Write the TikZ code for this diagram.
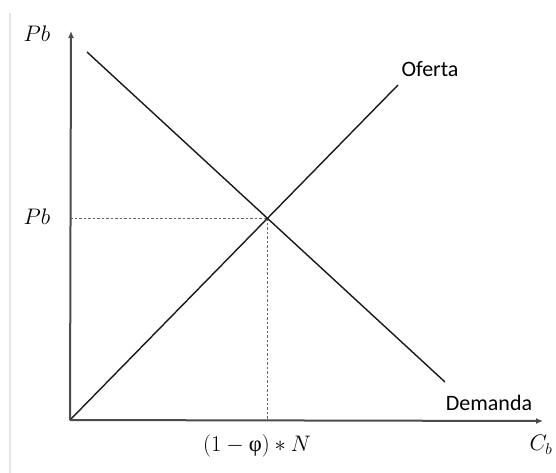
\documentclass[tikz,border=0pt]{standalone}
\usepackage{graphicx}
\usepackage{fontspec}
\setsansfont{Carlito}
\newfontfamily\libser{Liberation Serif}
\usetikzlibrary{arrows.meta}
\definecolor{edgeshade}{RGB}{228,228,236}
\newcommand{\bigmath}[1]{\scalebox{1.3}{\LARGE #1}}
\begin{document}
\begin{tikzpicture}[x=1pt,y=-1pt,
  axis/.style={draw=black!70,line width=2pt,-{Latex[length=7pt,width=6pt]}},
  curve/.style={draw=black!90,line width=1.4pt},
  guide/.style={draw=black!60,line width=0.8pt,dash pattern=on 2.5pt off 2pt},
  mathlbl/.style={inner sep=0pt},
  txtlbl/.style={font=\sffamily\fontsize{22}{26}\selectfont,inner sep=0pt}]
\useasboundingbox (0,0) rectangle (556,473);
\fill[white] (0,0) rectangle (556,473);
\draw[draw=edgeshade,line width=2pt] (10,13) -- (10,473);
% coordinates
\coordinate (O) at (70,420);
\coordinate (ytop) at (71,31);
\coordinate (xend) at (543,421);
\coordinate (d1) at (87,52);
\coordinate (d2) at (445,382);
\coordinate (s2) at (398,85);
\coordinate (E) at (intersection of d1--d2 and O--s2);
\coordinate (Ey) at (O |- E);
\coordinate (Ex) at (E |- O);
% guides
\draw[guide] (Ey) -- (E);
\draw[guide] (E) -- (Ex);
% curves
\draw[curve] (d1) -- (d2);
\draw[curve] (O) -- (s2);
% axes
\draw[axis] (O) -- (ytop);
\draw[axis] (O) -- (xend);
% labels
\node[mathlbl] (lpb1) at (37,34) {\bigmath{$Pb$}};
\node[mathlbl] (lpb2) at (37,217) {\bigmath{$Pb$}};
\node[mathlbl] (lq) at (257,446) {\bigmath{$(1-\mbox{\libser φ})\ast N$}};
\node[mathlbl] (lcb) at (541,445) {\bigmath{$C_b$}};
\node[txtlbl] (lof) at (430,69) {Oferta};
\node[txtlbl] (lde) at (489,403) {Demanda};
\end{tikzpicture}
\end{document}
